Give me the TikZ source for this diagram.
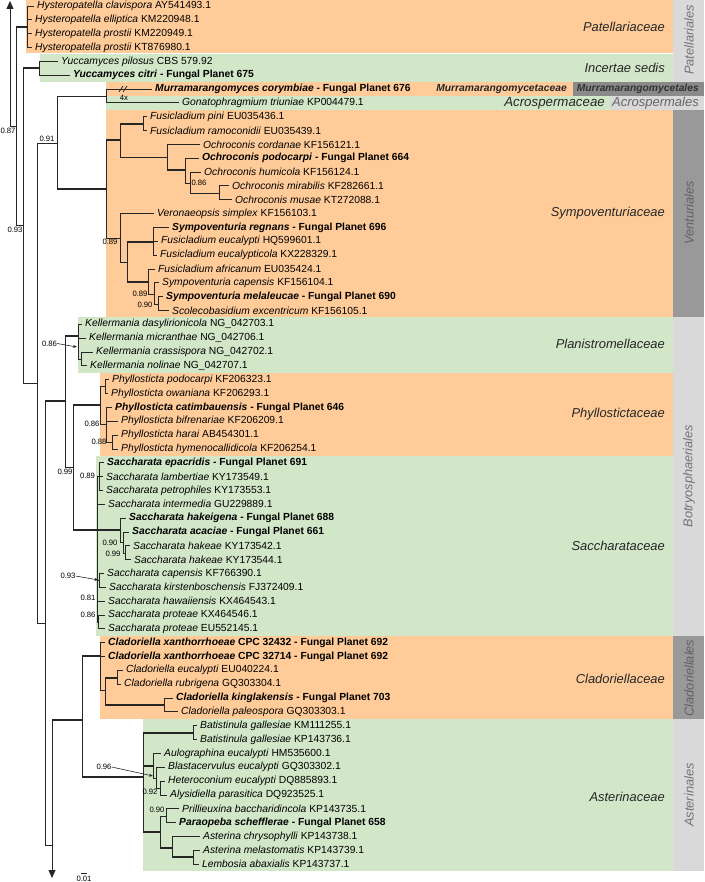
\documentclass[tikz,border=0pt]{standalone}
\usepackage{fontspec}
\setmainfont{Liberation Sans}[
  UprightFont = {Liberation Sans},
  BoldFont = {Liberation Sans Bold},
  ItalicFont = {Liberation Sans Italic},
  BoldItalicFont = {Liberation Sans Bold Italic}]
\usetikzlibrary{arrows.meta}

\definecolor{bandorange}{HTML}{FFCC99}
\definecolor{bandgreen}{HTML}{D1E7C8}
\definecolor{ordlight}{HTML}{D9D9D9}
\definecolor{orddark}{HTML}{999999}
\definecolor{ordmurr}{HTML}{8A8A8A}
\definecolor{treeline}{HTML}{262626}

\newcommand{\sci}[2]{\textit{#1} #2}
\newcommand{\fplanet}[2]{\textbf{\textit{#1} - Fungal Planet #2}}

\tikzset{
  br/.style={draw=treeline, line width=0.8pt},
  bbr/.style={draw=treeline, line width=2.4pt},
  leaf/.style={anchor=west, inner xsep=3pt, inner ysep=0pt, font=\fontsize{10.3}{12}\selectfont},
  supp/.style={inner sep=0pt, font=\fontsize{7.7}{9}\selectfont},
  fam/.style={anchor=east, inner sep=0pt, text=black!85, font=\fontsize{12.9}{15}\selectfont\itshape},
  ordlab/.style={rotate=90, inner sep=0pt, text=black!55, font=\fontsize{12.8}{15}\selectfont\itshape},
  pointer/.style={draw=treeline, line width=0.6pt, -{Stealth[length=4pt,width=3pt]}},
}

\begin{document}
\begin{tikzpicture}[x=1pt, y=-1pt]
\fill[white] (0,0) rectangle (704,882);
\useasboundingbox (0,0) rectangle (704,882);

% family bands
\fill[bandorange] (26,0) rectangle (673,53);
\fill[bandgreen] (40,54) rectangle (673,82);
\fill[bandorange] (106,82) rectangle (573,96);
\fill[bandgreen] (106,96) rectangle (610,110);
\fill[bandorange] (106,110) rectangle (673,317);
\fill[bandgreen] (78,317) rectangle (673,373);
\fill[bandorange] (100,373) rectangle (673,456);
\fill[bandgreen] (96,456) rectangle (673,636);
\fill[bandorange] (100,636) rectangle (673,719);
\fill[bandgreen] (143,719) rectangle (673,871);
% order boxes
\fill[ordlight] (673,0) rectangle (704,82);
\fill[ordmurr] (573,82) rectangle (704,96);
\fill[ordlight] (610,96) rectangle (704,110);
\fill[orddark] (673,110) rectangle (704,317);
\fill[ordlight] (673,317) rectangle (704,636);
\fill[orddark] (673,636) rectangle (704,719);
\fill[ordlight] (673,719) rectangle (704,871);

\node[fam] (patel) at (665,27) {Patellariaceae};
\node[fam] (incert) at (665,68) {Incertae sedis};
\node[fam, font=\fontsize{10.3}{12}\selectfont\bfseries\itshape] (murrfam) at (567,89) {Murramarangomycetaceae};
\node[fam, font=\fontsize{13.3}{15}\selectfont\itshape] (acrofam) at (605,103) {Acrospermaceae};
\node[fam] (sympo) at (665,213) {Sympoventuriaceae};
\node[fam] (planis) at (665,344) {Planistromellaceae};
\node[fam] (phyllo) at (665,414) {Phyllostictaceae};
\node[fam] (saccha) at (665,546) {Saccharataceae};
\node[fam] (clado) at (665,679) {Cladoriellaceae};
\node[fam] (aster) at (665,797) {Asterinaceae};

\node[fam, text=black!80, font=\fontsize{10.3}{12}\selectfont\bfseries\itshape] (murrord) at (699,89) {Murramarangomycetales};
\node[fam, text=black!60, font=\fontsize{13}{15}\selectfont\itshape] (acroord) at (699,103) {Acrospermales};
\node[ordlab] (patord) at (689,40) {Patellariales};
\node[ordlab, text=black!62] (ventord) at (689,213) {Venturiales};
\node[ordlab] (botord) at (689,476) {Botryosphaeriales};
\node[ordlab, text=black!62] (cladord) at (689,678) {Cladoriellales};
\node[ordlab] (astord) at (689,795) {Asterinales};

% taxa
\node[leaf] (l1) at (34,6) {\sci{Hysteropatella clavispora}{AY541493.1}};
\node[leaf] (l2) at (32,19.8) {\sci{Hysteropatella elliptica}{KM220948.1}};
\node[leaf] (l3) at (32,33.7) {\sci{Hysteropatella prostii}{KM220949.1}};
\node[leaf] (l4) at (32,47.5) {\sci{Hysteropatella prostii}{KT876980.1}};
\node[leaf] (l5) at (58,61.4) {\sci{Yuccamyces pilosus}{CBS 579.92}};
\node[leaf] (l6) at (70,75.2) {\fplanet{Yuccamyces citri}{675}};
\node[leaf] (l7) at (152,89) {\fplanet{Murramarangomyces corymbiae}{676}};
\node[leaf] (l8) at (179,102.9) {\sci{Gonatophragmium triuniae}{KP004479.1}};
\node[leaf] (l9) at (147,116.7) {\sci{Fusicladium pini}{EU035436.1}};
\node[leaf] (l10) at (147,130.6) {\sci{Fusicladium ramoconidii}{EU035439.1}};
\node[leaf] (l11) at (200,144.4) {\sci{Ochroconis cordanae}{KF156121.1}};
\node[leaf] (l12) at (199,158.2) {\fplanet{Ochroconis podocarpi}{664}};
\node[leaf] (l13) at (201,172.1) {\sci{Ochroconis humicola}{KF156124.1}};
\node[leaf] (l14) at (229,185.9) {\sci{Ochroconis mirabilis}{KF282661.1}};
\node[leaf] (l15) at (232,199.8) {\sci{Ochroconis musae}{KT272088.1}};
\node[leaf] (l16) at (154,213.6) {\sci{Veronaeopsis simplex}{KF156103.1}};
\node[leaf] (l17) at (169,227.4) {\fplanet{Sympoventuria regnans}{696}};
\node[leaf] (l18) at (158,241.3) {\sci{Fusicladium eucalypti}{HQ599601.1}};
\node[leaf] (l19) at (157,255.1) {\sci{Fusicladium eucalypticola}{KX228329.1}};
\node[leaf] (l20) at (155,269) {\sci{Fusicladium africanum}{EU035424.1}};
\node[leaf] (l21) at (159,282.8) {\sci{Sympoventuria capensis}{KF156104.1}};
\node[leaf] (l22) at (163,296.6) {\fplanet{Sympoventuria melaleucae}{690}};
\node[leaf] (l23) at (169,310.5) {\sci{Scolecobasidium excentricum}{KF156105.1}};
\node[leaf] (l24) at (82,324.3) {\sci{Kellermania dasylirionicola}{NG\_042703.1}};
\node[leaf] (l25) at (86,338.2) {\sci{Kellermania micranthae}{NG\_042706.1}};
\node[leaf] (l26) at (93,352) {\sci{Kellermania crassispora}{NG\_042702.1}};
\node[leaf] (l27) at (87,365.8) {\sci{Kellermania nolinae}{NG\_042707.1}};
\node[leaf] (l28) at (109,379.7) {\sci{Phyllosticta podocarpi}{KF206323.1}};
\node[leaf] (l29) at (108,393.5) {\sci{Phyllosticta owaniana}{KF206293.1}};
\node[leaf] (l30) at (112,407.4) {\fplanet{Phyllosticta catimbauensis}{646}};
\node[leaf] (l31) at (118,421.2) {\sci{Phyllosticta bifrenariae}{KF206209.1}};
\node[leaf] (l32) at (118,435) {\sci{Phyllosticta harai}{AB454301.1}};
\node[leaf] (l33) at (118,448.9) {\sci{Phyllosticta hymenocallidicola}{KF206254.1}};
\node[leaf] (l34) at (104,462.7) {\fplanet{Saccharata epacridis}{691}};
\node[leaf] (l35) at (103,476.6) {\sci{Saccharata lambertiae}{KY173549.1}};
\node[leaf] (l36) at (103,490.4) {\sci{Saccharata petrophiles}{KY173553.1}};
\node[leaf] (l37) at (105,504.2) {\sci{Saccharata intermedia}{GU229889.1}};
\node[leaf] (l38) at (126,518.1) {\fplanet{Saccharata hakeigena}{688}};
\node[leaf] (l39) at (129,531.9) {\fplanet{Saccharata acaciae}{661}};
\node[leaf] (l40) at (130,545.8) {\sci{Saccharata hakeae}{KY173542.1}};
\node[leaf] (l41) at (131,559.6) {\sci{Saccharata hakeae}{KY173544.1}};
\node[leaf] (l42) at (104,573.4) {\sci{Saccharata capensis}{KF766390.1}};
\node[leaf] (l43) at (106,587.3) {\sci{Saccharata kirstenboschensis}{FJ372409.1}};
\node[leaf] (l44) at (105,601.1) {\sci{Saccharata hawaiiensis}{KX464543.1}};
\node[leaf] (l45) at (105,615) {\sci{Saccharata proteae}{KX464546.1}};
\node[leaf] (l46) at (105,628.8) {\sci{Saccharata proteae}{EU552145.1}};
\node[leaf] (l47) at (105,642.6) {\textbf{\textit{Cladoriella xanthorrhoeae} CPC 32432 - Fungal Planet 692}};
\node[leaf] (l48) at (105,656.5) {\textbf{\textit{Cladoriella xanthorrhoeae} CPC 32714 - Fungal Planet 692}};
\node[leaf] (l49) at (123,670.3) {\sci{Cladoriella eucalypti}{EU040224.1}};
\node[leaf] (l50) at (121,684.2) {\sci{Cladoriella rubrigena}{GQ303304.1}};
\node[leaf] (l51) at (173,698) {\fplanet{Cladoriella kinglakensis}{703}};
\node[leaf] (l52) at (178,711.8) {\sci{Cladoriella paleospora}{GQ303303.1}};
\node[leaf] (l53) at (197,725.7) {\sci{Batistinula gallesiae}{KM111255.1}};
\node[leaf] (l54) at (197,739.5) {\sci{Batistinula gallesiae}{KP143736.1}};
\node[leaf] (l55) at (161,753.4) {\sci{Aulographina eucalypti}{HM535600.1}};
\node[leaf] (l56) at (165,767.2) {\sci{Blastacervulus eucalypti}{GQ303302.1}};
\node[leaf] (l57) at (165,781) {\sci{Heteroconium eucalypti}{DQ885893.1}};
\node[leaf] (l58) at (167,794.9) {\sci{Alysidiella parasitica}{DQ923525.1}};
\node[leaf] (l59) at (179,808.7) {\sci{Prillieuxina baccharidincola}{KP143735.1}};
\node[leaf] (l60) at (176,822.6) {\fplanet{Paraopeba schefflerae}{658}};
\node[leaf] (l61) at (200,836.4) {\sci{Asterina chrysophylli}{KP143738.1}};
\node[leaf] (l62) at (200,850.2) {\sci{Asterina melastomatis}{KP143739.1}};
\node[leaf] (l63) at (199,864.1) {\sci{Lembosia abaxialis}{KP143737.1}};

% inner nodes
\coordinate (TA) at (10,1);
\coordinate (RT) at (10,126);
\coordinate (R) at (16,126);
\coordinate (H1) at (27,27);
\coordinate (P) at (23,225);
\coordinate (Y1) at (39,68);
\coordinate (C) at (37,383);
\coordinate (N1) at (57,143);
\coordinate (MG) at (106,96);
\coordinate (V1) at (106,189);
\coordinate (V2) at (120,140);
\coordinate (F) at (143,124);
\coordinate (O1) at (167,157);
\coordinate (O2) at (185,170);
\coordinate (O3) at (190,183);
\coordinate (O4) at (219,193);
\coordinate (V3) at (120,238);
\coordinate (V4) at (127,262);
\coordinate (V5) at (153,242);
\coordinate (V6) at (148,282);
\coordinate (V7) at (154,294);
\coordinate (V8) at (158,304);
\coordinate (D) at (45,623);
\coordinate (BT1) at (65,401);
\coordinate (K1) at (78,336);
\coordinate (K2) at (81,359);
\coordinate (BT2) at (73,467);
\coordinate (Ph1) at (100,405);
\coordinate (Ph2) at (105,386);
\coordinate (Ph3) at (106,424);
\coordinate (Ph4) at (112,442);
\coordinate (S1) at (97,530);
\coordinate (S2) at (99,476);
\coordinate (S3) at (120,530);
\coordinate (S5) at (123,542);
\coordinate (S6) at (125,553);
\coordinate (Sa) at (99,580);
\coordinate (Sb) at (97,611);
\coordinate (Sc) at (98,622);
\coordinate (E) at (52,845);
\coordinate (BA) at (52,878);
\coordinate (CA) at (82,720);
\coordinate (Cl1) at (100,656);
\coordinate (Cl2) at (105,690);
\coordinate (Cl3) at (117,678);
\coordinate (Cl4) at (164,705);
\coordinate (AS1) at (143,777);
\coordinate (Ba) at (193,733);
\coordinate (AS2) at (153,766);
\coordinate (AS2b) at (156,778);
\coordinate (AS2c) at (160,788);
\coordinate (AS3) at (160,832);
\coordinate (AS4) at (166,816);
\coordinate (AS5) at (172,848);
\coordinate (AS6) at (193,857);

% thick stems
\draw[bbr] (R|-H1) -- (H1);
\draw[bbr] (P|-Y1) -- (Y1);
\draw[bbr] (N1|-V1) -- (V1);
\draw[bbr] (V1|-V2) -- (V2);
\draw[bbr] (V2|-F) -- (F);
\draw[bbr] (O1|-O2) -- (O2);
\draw[bbr] (V4|-V5) -- (V5);
\draw[bbr] (V4|-V6) -- (V6);
\draw[bbr] (D|-BT1) -- (BT1);
\draw[bbr] (BT1|-K1) -- (K1);
\draw[bbr] (BT2|-Ph1) -- (Ph1);
\draw[bbr] (BT2|-S1) -- (S1);
\draw[bbr] (S1|-S3) -- (S3);
\draw[bbr] (E|-CA) -- (CA);
\draw[bbr] (CA|-Cl1) -- (Cl1);
\draw[bbr] (CA|-AS1) -- (AS1);
\draw[bbr] (Cl2|-Cl3) -- (Cl3);
\draw[bbr] (Cl2|-Cl4) -- (Cl4);
\draw[bbr] (AS1|-Ba) -- (Ba);
\draw[bbr] (AS1|-AS2) -- (AS2);
\draw[bbr] (AS1|-AS3) -- (AS3);
\draw[bbr] (AS3|-AS5) -- (AS5);
\draw[bbr] (AS5|-AS6) -- (AS6);

% branches
\draw[br, -{Triangle[length=8pt,width=7pt]}] (RT) -- (TA);
\draw[br] (RT) -- (R);
\draw[br] (R) |- (H1) (R) |- (P);
\draw[br] (H1) |- (l1) (H1) |- (l2) (H1) |- (l3) (H1) |- (l4);
\draw[br] (P) |- (Y1) (P) |- (C);
\draw[br] (Y1) |- (l5) (Y1) |- (l6);
\draw[br] (C) |- (N1) (C) |- (D);
\draw[br] (N1) |- (MG) (N1) |- (V1);
\draw[br] (MG) |- (l7) (MG) |- (l8);
\draw[br] (V1) |- (V2) (V1) |- (V3);
\draw[br] (V2) |- (F) (V2) |- (O1);
\draw[br] (F) |- (l9) (F) |- (l10);
\draw[br] (O1) |- (l11) (O1) |- (O2);
\draw[br] (O2) |- (l12) (O2) |- (O3);
\draw[br] (O3) |- (l13) (O3) |- (O4);
\draw[br] (O4) |- (l14) (O4) |- (l15);
\draw[br] (V3) |- (l16) (V3) |- (V4);
\draw[br] (V4) |- (V5) (V4) |- (V6);
\draw[br] (V5) |- (l17) (V5) |- (l18) (V5) |- (l19);
\draw[br] (V6) |- (l20) (V6) |- (V7);
\draw[br] (V7) |- (l21) (V7) |- (V8);
\draw[br] (V8) |- (l22) (V8) |- (l23);
\draw[br] (D) |- (BT1) (D) |- (E);
\draw[br] (BT1) |- (K1) (BT1) |- (BT2);
\draw[br] (K1) |- (l24) (K1) |- (l25) (K1) |- (K2);
\draw[br] (K2) |- (l26) (K2) |- (l27);
\draw[br] (BT2) |- (Ph1) (BT2) |- (S1);
\draw[br] (Ph1) |- (Ph2) (Ph1) |- (Ph3);
\draw[br] (Ph2) |- (l28) (Ph2) |- (l29);
\draw[br] (Ph3) |- (l30) (Ph3) |- (l31) (Ph3) |- (Ph4);
\draw[br] (Ph4) |- (l32) (Ph4) |- (l33);
\draw[br] (S1) |- (S2) (S1) |- (l37) (S1) |- (S3) (S1) |- (Sa) (S1) |- (Sb);
\draw[br] (S2) |- (l34) (S2) |- (l35) (S2) |- (l36);
\draw[br] (S3) |- (l38) (S3) |- (S5);
\draw[br] (S5) |- (l39) (S5) |- (S6);
\draw[br] (S6) |- (l40) (S6) |- (l41);
\draw[br] (Sa) |- (l42) (Sa) |- (l43);
\draw[br] (Sb) |- (l44) (Sb) |- (Sc);
\draw[br] (Sc) |- (l45) (Sc) |- (l46);
\draw[br, -{Triangle[length=8pt,width=7pt]}] (E) -- (BA);
\draw[br] (E) |- (CA);
\draw[br] (CA) |- (Cl1) (CA) |- (AS1);
\draw[br] (Cl1) |- (l47) (Cl1) |- (l48) (Cl1) |- (Cl2);
\draw[br] (Cl2) |- (Cl3) (Cl2) |- (Cl4);
\draw[br] (Cl3) |- (l49) (Cl3) |- (l50);
\draw[br] (Cl4) |- (l51) (Cl4) |- (l52);
\draw[br] (AS1) |- (Ba) (AS1) |- (AS2) (AS1) |- (AS3);
\draw[br] (Ba) |- (l53) (Ba) |- (l54);
\draw[br] (AS2) |- (l55) (AS2) |- (AS2b);
\draw[br] (AS2b) |- (l56) (AS2b) |- (AS2c);
\draw[br] (AS2c) |- (l57) (AS2c) |- (l58);
\draw[br] (AS3) |- (AS4) (AS3) |- (AS5);
\draw[br] (AS4) |- (l59) (AS4) |- (l60);
\draw[br] (AS5) |- (l61) (AS5) |- (AS6);
\draw[br] (AS6) |- (l62) (AS6) |- (l63);

% broken long branch
\draw[br, line width=0.7pt] (119,92) -- (123,86) (123,92) -- (127,86);
\node[supp] (fourx) at (124,98) {4x};

% support values
\node[supp] (s1) at (8,131) {0.87};
\node[supp] (s2) at (15,230) {0.93};
\node[supp] (s3) at (47,139) {0.91};
\node[supp] (s4) at (199,183) {0.86};
\node[supp] (s5) at (110,242) {0.89};
\node[supp] (s6) at (140,294) {0.89};
\node[supp] (s7) at (145,304.5) {0.90};
\node[supp] (s8) at (49.5,343.5) {0.86};
\node[supp] (s9) at (92,424) {0.86};
\node[supp] (s10) at (99,442) {0.88};
\node[supp] (s11) at (65,472) {0.99};
\node[supp] (s12) at (87.5,476) {0.89};
\node[supp] (s13) at (110,543) {0.90};
\node[supp] (s14) at (113,554) {0.99};
\node[supp] (s15) at (68,576) {0.93};
\node[supp] (s16) at (88,598) {0.81};
\node[supp] (s17) at (88,615) {0.86};
\node[supp] (s18) at (104,767) {0.96};
\node[supp] (s19) at (150,792) {0.92};
\node[supp] (s20) at (157,810) {0.90};
\coordinate (k1tip) at (77,347);
\coordinate (satip) at (98.5,580);
\coordinate (as2tip) at (153,776);
\draw[pointer] (s8.east) -- (k1tip);
\draw[pointer] (s15.east) -- (satip);
\draw[pointer] (s18.east) -- (as2tip);

% scale bar
\coordinate (sb1) at (81,873);
\coordinate (sb2) at (87,873);
\draw[br, line width=0.6pt] (sb1) -- (sb2);
\node[supp] (sbl) at (84,879) {0.01};
\end{tikzpicture}
\end{document}
